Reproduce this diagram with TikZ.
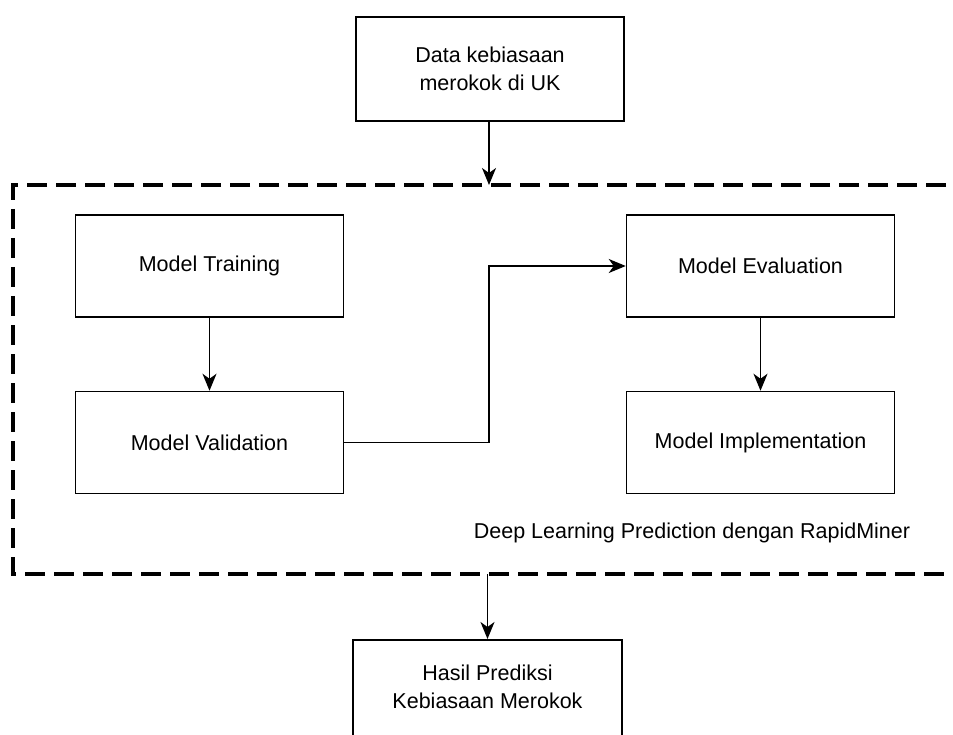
\documentclass[tikz,border=0pt]{standalone}
\usepackage{fontspec}
\setmainfont{Liberation Sans}
\usetikzlibrary{arrows.meta}
\begin{document}
\begin{tikzpicture}[x=1pt,y=-1pt,
  box/.style={draw=black, line width=1.5pt, fill=white, align=center, font=\fontsize{21.5}{28}\selectfont},
  arr/.style={line width=1.5pt, -{Stealth[length=17pt,width=14pt,inset=5pt]}},
  lbl/.style={font=\fontsize{21.5}{28}\selectfont, inner sep=0pt}]
\clip (0,0) rectangle (953,735);
\fill[white] (0,0) rectangle (953,735);
% dashed container
\draw[line width=3.5pt, dash pattern=on 20pt off 9pt] (975,185) -- (13,185) -- (13,574) -- (975,574);
% nodes
\node[box, minimum width=268pt, minimum height=104pt] (data) at (490,69) {Data kebiasaan\\merokok di UK};
\node[box, minimum width=268pt, minimum height=102pt] (train) at (209.5,266) {Model Training};
\node[box, minimum width=268pt, minimum height=102pt] (valid) at (209.5,442.5) {Model Validation};
\node[box, minimum width=268pt, minimum height=102pt] (eval) at (760.5,266) {Model Evaluation};
\node[box, minimum width=268pt, minimum height=102pt] (impl) at (760.5,442.5) {Model Implementation};
\node[box, minimum width=269pt, minimum height=120pt, anchor=north] (hasil) at (487.5,639) {\\[-10pt]Hasil Prediksi\\Kebiasaan Merokok\\~};
\node[lbl] (dl) at (692,533) {Deep Learning Prediction dengan RapidMiner};
\coordinate (ctop) at (489,185);
\coordinate (cbot) at (487.5,574);
% connectors
\draw[arr] (data.south -| ctop) -- (ctop);
\draw[arr] (cbot) -- (hasil.north);
\draw[arr] (train) -- (valid);
\draw[arr] (eval) -- (impl);
\draw[arr] (valid.east) -- (489,442.5) |- (eval.west);
\end{tikzpicture}
\end{document}
